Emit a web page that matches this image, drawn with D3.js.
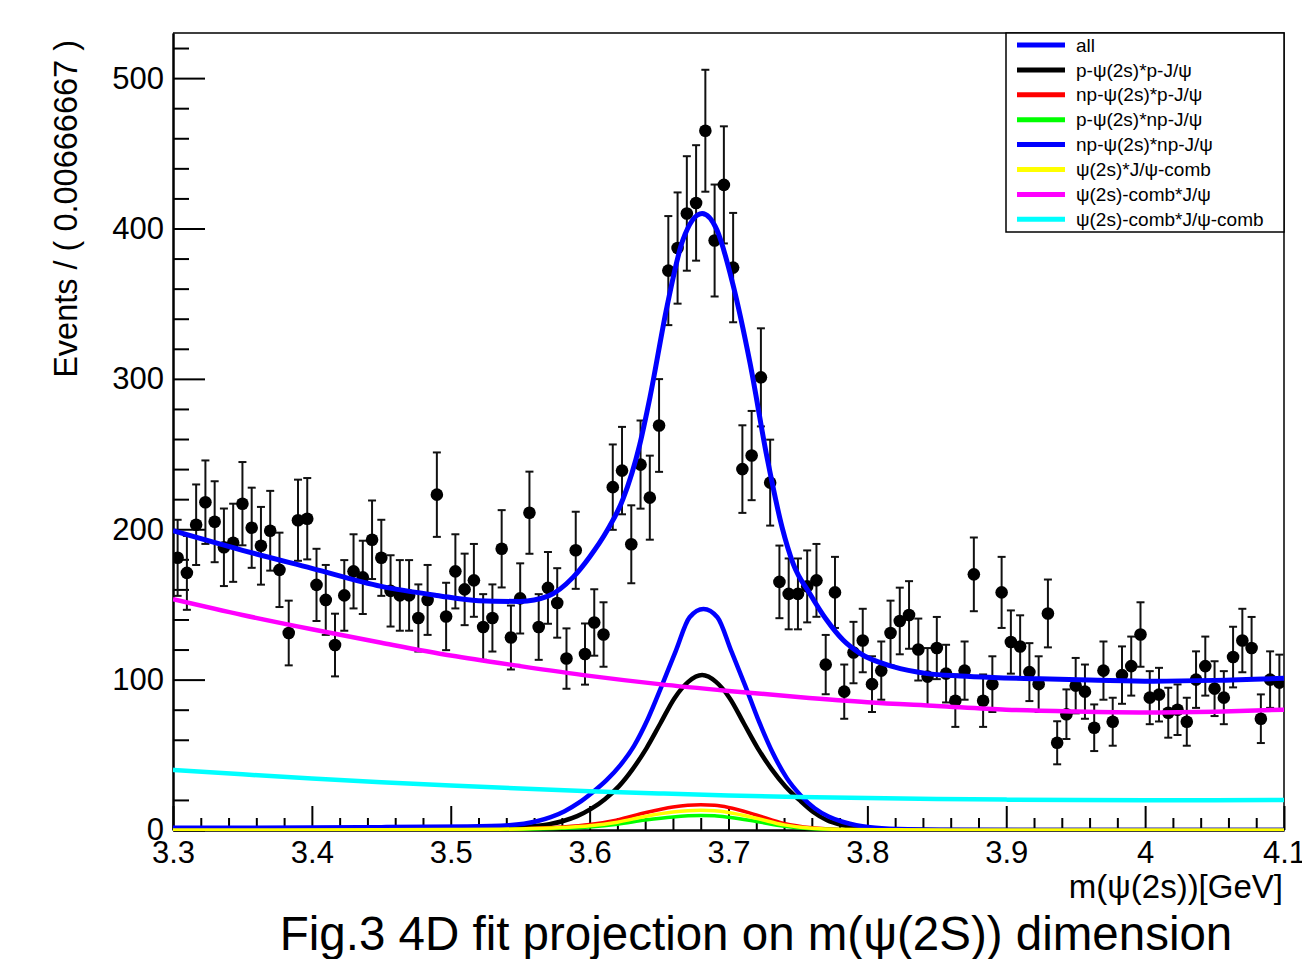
<!DOCTYPE html>
<html>
<head>
<meta charset="utf-8">
<script src="https://cdn.jsdelivr.net/npm/d3@7"></script>
<style>
body { margin: 0; background: #fff; }
svg { display: block; font-family: "Liberation Sans", Arial, Helvetica, sans-serif; }
</style>
</head>
<body>
<div id="container"></div>
<script>
// histogram: 120 bins of 0.00666667 GeV from 3.3 to 4.1
var binStart = 3.3,
    binWidth = 0.8 / 120;
var counts = [
    181, 171, 203, 218, 205, 188, 191, 217, 201, 189,
    199, 173, 131, 206, 207, 163, 153, 123, 156, 172,
    168, 193, 181, 159, 156, 156, 141, 153, 223, 142,
    172, 160, 166, 135, 141, 187, 128, 154, 211, 135,
    161, 151, 114, 186, 117, 138, 130, 228, 239, 190,
    243, 221, 269, 372, 387, 410, 417, 465, 392, 429,
    374, 240, 249, 301, 231, 165, 157, 157, 162, 166,
    110, 158, 92, 118, 126, 97, 106, 131, 139, 143,
    120, 102, 121, 104, 86, 106, 170, 86, 97, 158,
    125, 122, 105, 97, 144, 58, 77, 96, 92, 68,
    106, 72, 103, 109, 130, 88, 90, 78, 80, 72,
    100, 109, 94, 88, 115, 126, 121, 74, 100, 98
];
// weighted events: error bars are about 1.88 * sqrt(N) in the picture
var errScale = 1.88;

// fit curves, points [mass, events]
var curveAll = [[3.30, 199], [3.35, 186], [3.40, 174], [3.45, 162], [3.49, 156], [3.52, 152.5], [3.55, 152],
    [3.57, 155.5], [3.588, 168], [3.60, 181.6], [3.6125, 199], [3.624, 220], [3.636, 256], [3.6435, 288],
    [3.6557, 348], [3.667, 392], [3.681, 410], [3.6917, 399], [3.703, 363.5], [3.7155, 310.5], [3.7277, 248],
    [3.7385, 201.6], [3.7466, 177], [3.7587, 157], [3.7707, 139.6], [3.7825, 126.3], [3.7947, 117.4],
    [3.8185, 108.6], [3.843, 104], [3.8667, 102.4], [3.8905, 101.4], [3.9243, 100.5], [3.96, 99.8],
    [4.0057, 99], [4.05, 99.5], [4.10, 100.9]];
var curvePP = [[3.30, 0.6], [3.45, 0.8], [3.511, 1.1], [3.541, 1.6], [3.561, 2.6], [3.571, 3.9], [3.581, 6],
    [3.591, 9.2], [3.601, 14], [3.611, 20.5], [3.621, 29], [3.631, 40.5], [3.641, 54.5], [3.651, 71],
    [3.661, 87.5], [3.671, 98.5], [3.681, 103], [3.691, 98.5], [3.701, 87.5], [3.711, 71], [3.721, 54.5],
    [3.731, 40.5], [3.741, 29], [3.751, 20], [3.761, 12], [3.771, 6.5], [3.781, 3.5], [3.791, 1.8],
    [3.801, 0.9], [3.821, 0.3], [3.851, 0.05], [3.95, 0], [4.10, 0]];
var curveNpP = [[3.30, 0], [3.45, 0.1], [3.50, 0.3], [3.55, 0.9], [3.58, 2], [3.60, 3.6], [3.62, 6.7],
    [3.64, 11.5], [3.66, 15.3], [3.68, 16.8], [3.69, 16.4], [3.70, 15], [3.72, 10], [3.74, 4.4], [3.76, 1.5],
    [3.78, 0.4], [3.82, 0.1], [3.90, 0], [4.10, 0]];
var curvePNp = [[3.30, 0], [3.45, 0.05], [3.50, 0.17], [3.55, 0.5], [3.58, 1.1], [3.60, 2], [3.62, 3.8],
    [3.64, 6.6], [3.66, 8.7], [3.68, 9.6], [3.69, 9.4], [3.70, 8.5], [3.72, 5.7], [3.74, 2.5], [3.76, 0.8],
    [3.78, 0.3], [3.82, 0], [4.10, 0]];
var curveNpNp = [[3.30, 1.5], [3.40, 1.6], [3.45, 1.9], [3.512, 2.3], [3.542, 3.2], [3.562, 5.8],
    [3.572, 8.5], [3.582, 12.5], [3.592, 18], [3.602, 25], [3.612, 33], [3.622, 43], [3.632, 56],
    [3.642, 74], [3.652, 96], [3.662, 119], [3.672, 141.5], [3.682, 147], [3.692, 141.5], [3.702, 119],
    [3.712, 96], [3.722, 72], [3.732, 51], [3.742, 34.5], [3.752, 23], [3.762, 14.5], [3.772, 9],
    [3.782, 5.5], [3.792, 3.2], [3.802, 1.8], [3.822, 0.6], [3.852, 0.1], [3.95, 0], [4.10, 0]];
var curveJpsiComb = [[3.30, 0], [3.45, 0.1], [3.50, 0.25], [3.55, 0.7], [3.58, 1.6], [3.60, 2.8],
    [3.62, 5.2], [3.64, 9], [3.66, 11.9], [3.68, 13.1], [3.69, 12.8], [3.70, 11.7], [3.72, 7.8],
    [3.74, 3.4], [3.76, 1.1], [3.78, 0.4], [3.82, 0.1], [3.90, 0], [4.10, 0]];
var curvePsiComb = [[3.30, 153.5], [3.35, 143], [3.40, 133.5], [3.45, 124.5], [3.50, 116], [3.55, 109],
    [3.60, 102.5], [3.65, 97], [3.70, 92.5], [3.75, 88.5], [3.80, 85], [3.85, 82.5], [3.90, 80],
    [3.95, 78.8], [4.00, 78.2], [4.05, 78.7], [4.10, 80]];
var curveBothComb = [[3.30, 40], [3.35, 37], [3.40, 34.3], [3.45, 31.8], [3.50, 29.6], [3.55, 27.6],
    [3.60, 25.8], [3.65, 24.3], [3.70, 23], [3.75, 22], [3.80, 21.2], [3.85, 20.6], [3.90, 20.2],
    [3.95, 19.9], [4.00, 19.8], [4.05, 19.8], [4.10, 19.9]];

var legendLabels = ['all', 'p-\u03c8(2s)*p-J/\u03c8', 'np-\u03c8(2s)*p-J/\u03c8', 'p-\u03c8(2s)*np-J/\u03c8',
    'np-\u03c8(2s)*np-J/\u03c8', '\u03c8(2s)*J/\u03c8-comb', '\u03c8(2s)-comb*J/\u03c8',
    '\u03c8(2s)-comb*J/\u03c8-comb'];
var legendColors = ['#0000ff', '#000000', '#ff0000', '#00ff00', '#0000ff', '#ffff00', '#ff00ff', '#00ffff'];
var curves = [curveAll, curvePP, curveNpP, curvePNp, curveNpNp, curveJpsiComb, curvePsiComb, curveBothComb];

var xMajor = [3.3, 3.4, 3.5, 3.6, 3.7, 3.8, 3.9, 4.0, 4.1];
var yMajor = [0, 100, 200, 300, 400, 500];

var width = 1302,
    height = 959,
    frame = { left: 173, right: 1284, top: 33, bottom: 830 };

var svg = d3.select('#container')
    .append('svg')
    .attr('width', width)
    .attr('height', height);

var x = d3.scaleLinear().domain([3.3, 4.1]).range([frame.left, frame.right]);
var y = d3.scaleLinear().domain([0, 530]).range([frame.bottom, frame.top]);

svg.append('clipPath').attr('id', 'clip')
    .append('rect')
    .attr('x', frame.left).attr('y', frame.top)
    .attr('width', frame.right - frame.left).attr('height', frame.bottom - frame.top + 1);

// frame top and right
svg.append('path')
    .attr('d', 'M' + frame.left + ',' + frame.top + 'H' + frame.right + 'V' + frame.bottom)
    .attr('fill', 'none')
    .attr('stroke', '#000')
    .attr('stroke-width', 1.5);

// minor ticks
var xMinor = d3.range(0, 41).filter(function(i) { return i % 5 != 0; })
    .map(function(i) { return 3.3 + i * 0.02; });
var yMinor = d3.range(0, 27).filter(function(i) { return i % 5 != 0; })
    .map(function(i) { return i * 20; });

function styleAxis(g) {
    g.selectAll('line').attr('stroke', '#000').attr('stroke-width', 2);
    g.select('.domain').attr('stroke', '#000').attr('stroke-width', 2);
    g.selectAll('text').attr('fill', '#000');
    g.attr('font-size', 31).attr('font-family', null);
}

svg.append('g')
    .attr('transform', 'translate(0,' + frame.bottom + ')')
    .call(d3.axisBottom(x).tickValues(xMinor).tickSize(-12).tickSizeOuter(0).tickFormat(''))
    .call(styleAxis);
svg.append('g')
    .attr('transform', 'translate(0,' + frame.bottom + ')')
    .call(d3.axisBottom(x).tickValues(xMajor).tickSize(-24).tickSizeOuter(0).tickPadding(11)
        .tickFormat(function(d) { return String(+d.toFixed(1)); }))
    .call(styleAxis);
svg.append('g')
    .attr('transform', 'translate(' + frame.left + ',0)')
    .call(d3.axisLeft(y).tickValues(yMinor).tickSize(-16).tickSizeOuter(0).tickFormat(''))
    .call(styleAxis);
svg.append('g')
    .attr('transform', 'translate(' + frame.left + ',0)')
    .call(d3.axisLeft(y).tickValues(yMajor).tickSize(-32).tickSizeOuter(0).tickPadding(9)
        .tickFormat(d3.format('d')))
    .call(styleAxis);

// axis titles
svg.append('text')
    .attr('transform', 'translate(77,40) rotate(-90)')
    .attr('text-anchor', 'end')
    .attr('font-size', 32.5)
    .text('Events / ( 0.00666667 )');
svg.append('text')
    .attr('x', 1283)
    .attr('y', 898)
    .attr('text-anchor', 'end')
    .attr('font-size', 33)
    .text('m(\u03c8(2s))[GeV]');

// data points with error bars
var bins = counts.map(function(c, i) {
    return { m: binStart + (i + 0.5) * binWidth, v: c, e: errScale * Math.sqrt(c) };
});
var pts = svg.append('g').attr('clip-path', 'url(#clip)');
var pt = pts.selectAll('g.pt')
    .data(bins)
    .enter()
    .append('g')
    .attr('class', 'pt')
    .attr('stroke', '#111')
    .attr('stroke-width', 2);
pt.append('line')
    .attr('x1', function(d) { return x(d.m); })
    .attr('x2', function(d) { return x(d.m); })
    .attr('y1', function(d) { return y(d.v - d.e); })
    .attr('y2', function(d) { return y(d.v + d.e); });
pt.append('line')
    .attr('x1', function(d) { return x(d.m) - 4; })
    .attr('x2', function(d) { return x(d.m) + 4; })
    .attr('y1', function(d) { return y(d.v + d.e); })
    .attr('y2', function(d) { return y(d.v + d.e); });
pt.append('line')
    .attr('x1', function(d) { return x(d.m) - 4; })
    .attr('x2', function(d) { return x(d.m) + 4; })
    .attr('y1', function(d) { return y(d.v - d.e); })
    .attr('y2', function(d) { return y(d.v - d.e); });
pt.append('circle')
    .attr('cx', function(d) { return x(d.m); })
    .attr('cy', function(d) { return y(d.v); })
    .attr('r', 6.3)
    .attr('fill', '#000')
    .attr('stroke', 'none');

// fit curves
var line = d3.line()
    .x(function(d) { return x(d[0]); })
    .y(function(d) { return y(d[1]); })
    .curve(d3.curveMonotoneX);
var widths = [5, 4.5, 3.5, 3.5, 4.5, 3.5, 4.5, 4.5];
svg.append('g')
    .attr('clip-path', 'url(#clip)')
    .selectAll('path')
    .data(curves)
    .enter()
    .append('path')
    .attr('d', line)
    .attr('fill', 'none')
    .attr('stroke', function(d, i) { return legendColors[i]; })
    .attr('stroke-width', function(d, i) { return widths[i]; })
    .attr('stroke-linejoin', 'round');

// legend
var legend = svg.append('g');
legend.append('rect')
    .attr('x', 1006).attr('y', 33)
    .attr('width', 278).attr('height', 199)
    .attr('fill', '#fff')
    .attr('stroke', '#000')
    .attr('stroke-width', 1.5);
var row = legend.selectAll('g.row')
    .data(legendLabels)
    .enter()
    .append('g')
    .attr('class', 'row')
    .attr('transform', function(d, i) { return 'translate(0,' + (45 + i * 24.9) + ')'; });
row.append('line')
    .attr('x1', 1017).attr('x2', 1065)
    .attr('stroke', function(d, i) { return legendColors[i]; })
    .attr('stroke-width', 5);
row.append('text')
    .attr('x', 1076)
    .attr('dy', '0.35em')
    .attr('font-size', 19)
    .text(function(d) { return d; });

// caption
svg.append('text')
    .attr('x', 756)
    .attr('y', 950)
    .attr('text-anchor', 'middle')
    .attr('font-size', 47.5)
    .text('Fig.3 4D fit projection on m(\u03c8(2S)) dimension');
</script>
</body>
</html>
